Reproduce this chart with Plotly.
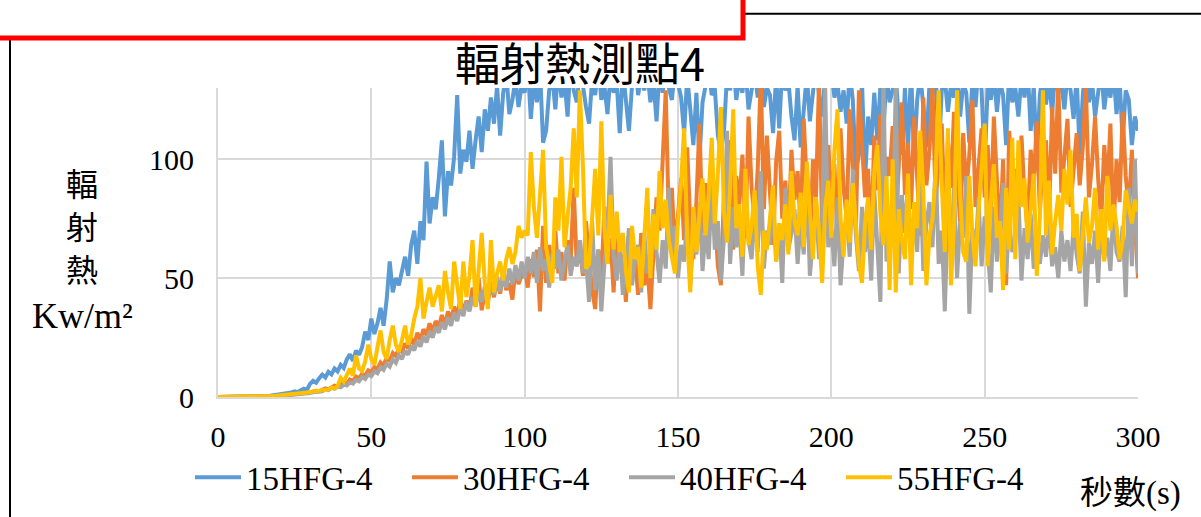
import plotly.graph_objects as go

# ---- data (kW/m² per second, 0-300 s) ----
seconds = list(range(0, 301))

hfg15 = [
    0, 0, 0, 0, 0, 0, 0, 0, 0, 0,
    0.1, 0.1, 0.2, 0.2, 0.3, 0.4, 0.4, 0.5, 0.7, 0.8,
    1.0, 1.2, 1.5, 1.3, 1.9, 2.4, 2.0, 2.8, 3.5, 3.0,
    5.5, 6.8, 6.0, 7.9, 9.4, 8.2, 10.6, 9.5, 12.0, 10.8,
    13.5, 12.2, 15.8, 18.0, 15.2, 19.5, 17.8, 21.0, 27.5, 24.0,
    33.0, 26.5, 31.0, 37.5, 30.0, 41.0, 57.0, 44.0, 50.0, 47.0,
    53.0, 59.0, 51.0, 64.0, 70.0, 56.0, 74.0, 66.0, 99.0, 73.0,
    84.0, 79.0, 92.0, 108.0, 76.0, 95.0, 89.0, 101.0, 127.0, 94.0,
    104, 99, 112, 96, 108, 118, 103, 121, 112, 126,
    115, 131, 110, 128, 136, 119, 125, 134, 122, 131,
    128, 140, 117, 133, 124, 138, 107, 112, 129, 135,
    121, 139, 126, 133, 118, 142, 129, 124, 137, 131,
    122, 115, 134, 127, 140, 125, 131, 119, 136, 128,
    133, 111, 138, 124, 112, 131, 142, 127, 135, 129,
    137, 124, 133, 116, 139, 128, 141, 130, 125, 138,
    132, 126, 111, 135, 121, 106, 128, 100, 124, 133,
    138, 127, 130, 110, 103, 112, 136, 129, 141, 125,
    134, 128, 139, 121, 131, 137, 126, 140, 122, 130,
    127, 111, 135, 113, 139, 129, 133, 118, 108, 131,
    105, 124, 136, 116, 129, 140, 127, 118, 135, 131,
    138, 126, 132, 120, 129, 115, 137, 125, 95, 102,
    133, 91, 118, 106, 128, 108, 131, 111, 137, 124,
    129, 135, 117, 102, 130, 104, 138, 100, 125, 136,
    122, 105, 132, 127, 139, 100, 129, 134, 120, 131,
    126, 137, 118, 132, 128, 107, 134, 122, 139, 129,
    98, 131, 125, 136, 120, 133, 127, 106, 138, 124,
    130, 118, 135, 126, 139, 112, 131, 100, 127, 137,
    123, 134, 119, 138, 128, 132, 121, 136, 129, 117,
    135, 102, 127, 140, 124, 133, 118, 131, 138, 121,
    132, 126, 137, 119, 134, 108, 129, 125, 106, 118,
    112,
]

hfg30 = [
    0, 0, 0, 0, 0, 0, 0, 0, 0, 0,
    0, 0, 0.1, 0.1, 0.1, 0.2, 0.2, 0.3, 0.3, 0.4,
    0.5, 0.6, 0.7, 0.8, 0.9, 1.0, 1.2, 1.4, 1.6, 1.8,
    2.0, 2.3, 2.6, 2.4, 3.1, 3.6, 3.2, 4.2, 4.8, 4.4,
    5.5, 6.2, 5.6, 7.4, 6.8, 8.6, 7.9, 9.8, 9.0, 11.2,
    10.5, 12.6, 11.8, 14.5, 13.2, 16.8, 15.0, 18.5, 17.2, 20.5,
    19.0, 22.5, 20.4, 24.8, 22.0, 27.0, 24.0, 28.5, 26.0, 31.0,
    27.5, 32.0, 29.5, 34.5, 30.0, 36.0, 32.5, 38.0, 34.0, 41.0,
    35.5, 40.5, 37.0, 46.0, 38.5, 50.0, 36.5, 44.0, 40.0, 47.5,
    42.0, 49.0, 43.5, 52.0, 45.0, 48.0, 41.0, 54.0, 47.5, 51.0,
    55.0, 46.0, 58.0, 50.5, 62.0, 36.0, 72.0, 48.0, 64.0, 53.0,
    70.0, 52.0, 61.0, 49.0, 66.0, 57.0, 88.0, 55.0, 63.0, 51.0,
    74.0, 58.0, 45.0, 37.0, 62.0, 48.0, 80.0, 56.0, 67.0, 44.0,
    71.0, 53.0, 60.0, 40.0, 66.0, 52.0, 58.0, 43.0, 69.0, 47.0,
    55.0, 37.0, 62.0, 84.0, 70.0, 96.0, 129.0, 74.0, 88.0, 61.0,
    79.0, 92.0, 66.0, 105.0, 73.0, 58.0, 82.0, 115.0, 69.0, 90.0,
    64.0, 98.0, 77.0, 55.0, 47.0, 86.0, 71.0, 108.0, 62.0, 93.0,
    81.0, 102.0, 67.0, 118.0, 88.0, 74.0, 96.0, 135.0, 79.0, 110.0,
    86.0, 64.0, 99.0, 112.0, 75.0, 91.0, 68.0, 104.0, 83.0, 95.0,
    72.0, 117.0, 89.0, 61.0, 100.0, 84.0, 134.0, 70.0, 94.0, 106.0,
    81.0, 98.0, 66.0, 113.0, 88.0, 75.0, 121.0, 92.0, 70.0, 129.0,
    103.0, 84.0, 96.0, 64.0, 110.0, 87.0, 119.0, 76.0, 101.0, 93.0,
    114.0, 71.0, 98.0, 124.0, 85.0, 107.0, 79.0, 118.0, 92.0, 68.0,
    126.0, 89.0, 104.0, 131.0, 82.0, 99.0, 115.0, 74.0, 108.0, 88.0,
    120.0, 95.0, 73.0, 111.0, 86.0, 102.0, 125.0, 80.0, 97.0, 113.0,
    84.0, 106.0, 76.0, 118.0, 91.0, 67.0, 100.0, 47.0, 112.0, 88.0,
    96.0, 79.0, 110.0, 85.0, 70.0, 104.0, 90.0, 116.0, 78.0, 99.0,
    108.0, 75.0, 122.0, 94.0, 133.0, 86.0, 101.0, 117.0, 80.0, 97.0,
    111.0, 89.0, 105.0, 131.0, 84.0, 98.0, 118.0, 92.0, 74.0, 106.0,
    87.0, 115.0, 69.0, 100.0, 82.0, 120.0, 93.0, 78.0, 104.0, 73.0,
    50.0,
]

hfg40 = [
    0, 0, 0, 0, 0, 0, 0, 0, 0, 0,
    0, 0, 0, 0.1, 0.1, 0.1, 0.2, 0.2, 0.3, 0.3,
    0.4, 0.5, 0.6, 0.7, 0.8, 0.9, 1.0, 1.2, 1.3, 1.5,
    1.7, 2.0, 2.2, 2.6, 2.4, 3.2, 2.9, 3.8, 3.5, 4.4,
    4.1, 5.2, 4.8, 6.1, 5.6, 7.2, 6.6, 8.4, 7.6, 9.5,
    8.8, 10.8, 10.0, 12.5, 11.4, 14.0, 12.8, 15.8, 14.4, 17.6,
    16.0, 19.5, 17.8, 21.5, 19.6, 23.5, 21.2, 25.5, 23.0, 27.5,
    25.0, 29.5, 27.0, 31.5, 28.5, 33.5, 30.0, 35.5, 32.0, 37.5,
    34.0, 40.0, 36.0, 42.0, 38.0, 44.5, 40.0, 46.5, 41.5, 48.5,
    43.0, 50.5, 44.5, 52.0, 46.0, 54.0, 47.5, 55.5, 49.0, 57.0,
    50.0, 59.0, 52.0, 61.0, 48.0, 63.0, 53.0, 58.0, 46.0, 60.0,
    54.0, 62.0, 49.0, 57.0, 64.0, 51.0, 59.0, 55.0, 66.0, 52.0,
    58.0, 40.0, 74.0, 45.0, 62.0, 36.0, 56.0, 68.0, 101.0, 60.0,
    49.0, 66.0, 43.0, 55.0, 71.0, 47.0, 58.0, 64.0, 44.0, 69.0,
    52.0, 57.0, 79.0, 61.0, 48.0, 66.0, 54.0, 88.0, 59.0, 72.0,
    50.0, 64.0, 57.0, 76.0, 47.0, 68.0, 60.0, 82.0, 53.0, 71.0,
    58.0, 90.0, 62.0, 74.0, 49.0, 67.0, 112.0, 56.0, 80.0, 63.0,
    72.0, 51.0, 86.0, 66.0, 58.0, 77.0, 61.0, 95.0, 54.0, 70.0,
    64.0, 83.0, 57.0, 73.0, 48.0, 88.0, 62.0, 69.0, 79.0, 56.0,
    74.0, 60.0, 92.0, 51.0, 67.0, 81.0, 58.0, 76.0, 130.0, 63.0,
    71.0, 55.0, 84.0, 47.0, 66.0, 77.0, 59.0, 96.0, 68.0, 53.0,
    80.0, 61.0, 74.0, 49.0, 87.0, 66.0, 40.0, 133.0, 57.0, 78.0,
    64.0, 131.0, 52.0, 85.0, 69.0, 90.0, 58.0, 76.0, 61.0, 95.0,
    53.0, 73.0, 82.0, 63.0, 99.0, 56.0, 70.0, 36.0, 78.0, 60.0,
    88.0, 50.0, 74.0, 67.0, 93.0, 35.0, 71.0, 59.0, 84.0, 55.0,
    76.0, 62.0, 44.0, 80.0, 57.0, 69.0, 90.0, 52.0, 73.0, 61.0,
    66.0, 85.0, 49.0, 71.0, 58.0, 77.0, 54.0, 64.0, 56.0, 68.0,
    59.0, 74.0, 55.0, 63.0, 50.0, 70.0, 57.0, 66.0, 53.0, 72.0,
    60.0, 52.0, 78.0, 38.0, 65.0, 56.0, 70.0, 48.0, 74.0, 58.0,
    67.0, 53.0, 79.0, 61.0, 57.0, 72.0, 42.0, 88.0, 55.0, 100.0,
    52.0,
]

hfg55 = [
    0, 0, 0, 0, 0, 0, 0, 0, 0, 0,
    0, 0, 0.1, 0.1, 0.2, 0.2, 0.3, 0.3, 0.4, 0.5,
    0.6, 0.7, 0.8, 0.9, 1.0, 1.2, 1.4, 1.5, 1.7, 1.9,
    2.1, 2.3, 2.5, 2.8, 3.0, 3.4, 3.2, 4.0, 3.6, 4.6,
    8.0, 6.5, 9.5, 12.0, 9.0, 17.5, 12.0, 11.0, 15.0, 22.0,
    16.0, 13.5, 21.0, 28.0, 19.0, 16.0, 24.0, 30.0, 22.0, 19.0,
    24.0, 30.0, 22.0, 26.0, 33.0, 38.0, 50.0, 33.0, 40.0, 46.0,
    38.0, 43.0, 47.0, 36.0, 53.0, 44.0, 37.0, 57.0, 46.0, 37.0,
    57.0, 42.0, 51.0, 66.0, 38.0, 55.0, 69.0, 48.0, 37.0, 66.0,
    44.0, 52.0, 57.0, 49.0, 58.0, 63.0, 56.0, 61.0, 72.0, 67.0,
    70.0, 68.0, 103.0, 80.0, 67.0, 85.0, 104.0, 63.0, 55.0, 48.0,
    84.0, 70.0, 101.0, 63.0, 76.0, 88.0, 113.0, 84.0, 129.0, 97.0,
    54.0, 56.0, 75.0, 96.0, 68.0, 116.0, 71.0, 56.0, 85.0, 62.0,
    78.0, 61.0, 69.0, 53.0, 44.0, 72.0, 58.0, 63.0, 46.0, 70.0,
    88.0, 50.0, 77.0, 62.0, 95.0, 71.0, 83.0, 66.0, 58.0, 52.0,
    74.0, 90.0, 113.0, 67.0, 44.0, 80.0, 61.0, 75.0, 92.0, 68.0,
    85.0, 109.0, 73.0, 94.0, 122.0, 78.0, 65.0, 88.0, 121.0, 71.0,
    81.0, 59.0, 96.0, 64.0, 72.0, 87.0, 55.0, 43.0, 70.0, 62.0,
    78.0, 89.0, 57.0, 73.0, 66.0, 81.0, 60.0, 95.0, 74.0, 68.0,
    86.0, 63.0, 99.0, 77.0, 58.0, 84.0, 70.0, 48.0, 80.0, 91.0,
    67.0, 104.0, 121.0, 75.0, 59.0, 83.0, 65.0, 90.0, 71.0, 56.0,
    48.0, 73.0, 84.0, 62.0, 95.0, 106.0, 77.0, 64.0, 93.0, 45.0,
    100.0, 44.0, 79.0, 66.0, 58.0, 94.0, 47.0, 82.0, 71.0, 112.0,
    86.0, 47.0, 68.0, 75.0, 94.0, 129.0, 90.0, 61.0, 113.0, 47.0,
    72.0, 129.0, 85.0, 61.0, 57.0, 93.0, 68.0, 55.0, 78.0, 96.0,
    115.0, 55.0, 82.0, 98.0, 67.0, 74.0, 45.0, 88.0, 62.0, 109.0,
    58.0, 108.0, 80.0, 92.0, 65.0, 79.0, 94.0, 51.0, 76.0, 129.0,
    68.0, 91.0, 60.0, 74.0, 85.0, 70.0, 96.0, 81.0, 104.0, 67.0,
    77.0, 53.0, 69.0, 84.0, 65.0, 72.0, 88.0, 62.0, 79.0, 57.0,
    93.0, 70.0, 81.0, 72.0, 58.0, 66.0, 87.0, 80.0, 73.0, 83.0,
    78.0,
]

series_names = ["15HFG-4", "30HFG-4", "40HFG-4", "55HFG-4"]
series_values = [hfg15, hfg30, hfg40, hfg55]
series_colors = ["#5B9BD5", "#ED7D31", "#A5A5A5", "#FFC000"]

chart_title = "輻射熱測點4"
y_title_chars = ["輻", "射", "熱"]
y_title_unit = "Kw/m²"
x_title = "秒數(s)"

# ---- layout geometry (pixels) ----
W, H = 1201, 517
PL, PR, PT, PB = 218, 1138, 88, 400   # plot area edges

def px(x):
    return (x - PL) / (PR - PL)

def py(y):
    return (PB - y) / (PB - PT)

SERIF = "Liberation Serif, 'Noto Sans CJK TC', serif"
CJK = "'Noto Sans CJK TC', 'Liberation Serif', sans-serif"

fig = go.Figure()
for name, vals, col in zip(series_names, series_values, series_colors):
    fig.add_trace(go.Scatter(
        x=seconds, y=vals, name=name, mode="lines",
        line=dict(color=col, width=4),
    ))

grid = "#D9D9D9"
fig.update_layout(
    width=W, height=H,
    margin=dict(l=PL, r=W - PR, t=PT, b=H - PB, pad=0),
    paper_bgcolor="white", plot_bgcolor="white",
    showlegend=True,
    legend=dict(
        orientation="h", x=px(190), y=py(481), xanchor="left", yanchor="middle",
        font=dict(family=SERIF, size=33, color="#000000"),
        entrywidth=156, entrywidthmode="pixels",
        itemwidth=46,
        bgcolor="rgba(0,0,0,0)", borderwidth=0,
        traceorder="normal",
    ),
    xaxis=dict(
        range=[0, 300], dtick=50, tick0=0,
        showgrid=True, gridcolor=grid, gridwidth=2,
        zeroline=False, showline=True, linecolor=grid, linewidth=2,
        ticks="outside", ticklen=12, tickcolor="rgba(0,0,0,0)",
        tickfont=dict(family=SERIF, size=30, color="#000000"),
    ),
    yaxis=dict(
        range=[0, 130], dtick=50, tick0=0,
        showgrid=True, gridcolor=grid, gridwidth=2,
        zeroline=False, showline=True, linecolor=grid, linewidth=2,
        ticks="outside", ticklen=16, tickcolor="rgba(0,0,0,0)",
        tickfont=dict(family=SERIF, size=30, color="#000000"),
    ),
)

# surrounding frame and the red call-out box over its top-left corner
fig.add_shape(type="rect", xref="paper", yref="paper",
              x0=px(10), x1=px(1400), y0=py(13), y1=py(700),
              line=dict(color="#000000", width=2), fillcolor="rgba(0,0,0,0)",
              layer="above")
fig.add_shape(type="rect", xref="paper", yref="paper",
              x0=px(-20), x1=px(743), y0=py(-20), y1=py(37.5),
              line=dict(color="#FF0000", width=5), fillcolor="white",
              layer="above")

annotations = [
    dict(text=chart_title, x=px(580), y=py(61), font=dict(family=CJK, size=45)),
    dict(text=x_title, x=px(1130), y=py(497), font=dict(family=SERIF, size=33)),
    dict(text=y_title_unit, x=px(82), y=py(318), font=dict(family=SERIF, size=36)),
]
for ch, yy in zip(y_title_chars, [183, 226, 270]):
    annotations.append(dict(text=ch, x=px(82), y=py(yy), font=dict(family=CJK, size=32)))
for a in annotations:
    a.update(xref="paper", yref="paper", showarrow=False,
             xanchor="center", yanchor="middle")
    a["font"]["color"] = "#000000"
fig.update_layout(annotations=annotations)

fig.write_html("out.html")
